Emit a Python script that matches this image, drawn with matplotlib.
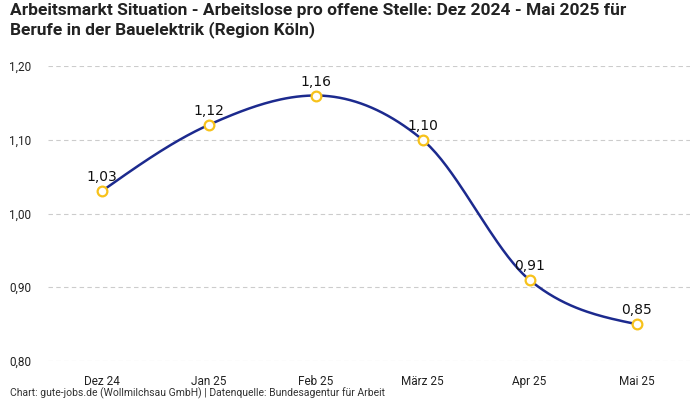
import matplotlib
matplotlib.use("Agg")
import matplotlib.pyplot as plt
import numpy as np

categories = ["Dez 24", "Jan 25", "Feb 25", "März 25", "Apr 25", "Mai 25"]
values = [1.03, 1.12, 1.16, 1.10, 0.91, 0.85]
yticks = [0.80, 0.90, 1.00, 1.10, 1.20]
title = "Arbeitsmarkt Situation - Arbeitslose pro offene Stelle: Dez 2024 - Mai 2025 für\nBerufe in der Bauelektrik (Region Köln)"
footer = "Chart: gute-jobs.de (Wollmilchsau GmbH) | Datenquelle: Bundesagentur für Arbeit"

def monotone_x(x, y, n=40):
    x = np.asarray(x, float); y = np.asarray(y, float)
    m = len(x)
    h = np.diff(x); s = np.diff(y) / h
    t = np.zeros(m)
    for i in range(1, m - 1):
        p = (s[i-1] * h[i] + s[i] * h[i-1]) / (h[i-1] + h[i])
        t[i] = (np.sign(s[i-1]) + np.sign(s[i])) * min(abs(s[i-1]), abs(s[i]), 0.5 * abs(p))
    t[0] = (3 * s[0] - t[1]) / 2
    t[-1] = (3 * s[-1] - t[-2]) / 2
    xs, ys = [], []
    for i in range(m - 1):
        u = np.linspace(0, 1, n, endpoint=(i == m - 2))
        h00 = 2*u**3 - 3*u**2 + 1; h10 = u**3 - 2*u**2 + u
        h01 = -2*u**3 + 3*u**2; h11 = u**3 - u**2
        xs.append(x[i] + u * h[i])
        ys.append(h00*y[i] + h10*h[i]*t[i] + h01*y[i+1] + h11*h[i]*t[i+1])
    return np.concatenate(xs), np.concatenate(ys)

fig = plt.figure(figsize=(7, 4), dpi=100)
ax = fig.add_axes([48/700, 1 - 361/400, 642/700, 295/400])

xpos = np.arange(len(categories))
cx, cy = monotone_x(xpos, values)
ax.plot(cx, cy, color="#1c2a8e", lw=1.8, zorder=3)
ax.plot(xpos, values, ls="none", marker="o", ms=7, mfc="white", mec="#f7c21b", mew=1.6, zorder=4)
for xi, v in zip(xpos, values):
    ax.annotate(f"{v:.2f}".replace(".", ","), (xi, v), xytext=(0, 5), textcoords="offset points",
                ha="center", va="bottom", fontsize=10, color="#111111", family="DejaVu Sans", zorder=5)

ax.set_xlim(-0.5, len(categories) - 0.5)
ax.set_ylim(0.80, 1.20)
ax.set_yticks(yticks)
ax.set_yticklabels([f"{v:.2f}".replace(".", ",") for v in yticks])
ax.set_xticks(xpos)
ax.set_xticklabels(categories)
ax.tick_params(axis="both", length=0, labelsize=8.5, colors="#222222")
ax.tick_params(axis="x", pad=10)
ax.tick_params(axis="y", pad=12)
for lab in ax.get_xticklabels() + ax.get_yticklabels():
    lab.set_family(["Liberation Sans Narrow", "Roboto", "DejaVu Sans"])
ax.grid(axis="y", ls=(0, (4, 3)), color="#cccccc", lw=0.8)
ax.set_axisbelow(True)
for sp in ax.spines.values():
    sp.set_visible(False)

fig.text(10/700, 1 - 3/400, title, ha="left", va="top", fontsize=12.5, fontweight="bold",
         color="#222222", family=["Liberation Sans Narrow", "Roboto", "DejaVu Sans"], linespacing=1.25)
fig.text(10/700, 1 - 393/400, footer, ha="left", va="center", fontsize=7.5, color="#333333",
         family=["Liberation Sans Narrow", "Roboto", "DejaVu Sans"])

fig.savefig("out.png", dpi=100)
